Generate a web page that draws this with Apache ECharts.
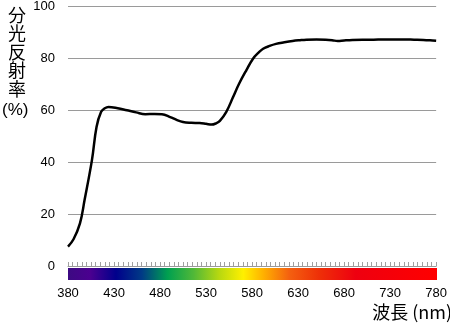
<!DOCTYPE html>
<html>
<head>
<meta charset="utf-8">
<script src="https://cdn.jsdelivr.net/npm/echarts@6/dist/echarts.min.js"></script>
<style>html,body{margin:0;padding:0;background:#fff}#c{width:450px;height:327px}</style>
</head>
<body>
<div id="c"></div>
<script>
var wavelengths = [380, 386, 393, 398, 406, 411, 416, 420, 424, 434, 444, 454, 464, 474, 482, 491, 498, 505, 514, 523, 530, 536, 541, 545, 552, 559, 566, 574, 581, 587, 592, 599, 606, 615, 624, 632, 639, 650, 660, 667, 673, 680, 689, 700, 712, 722, 733, 745, 756, 766, 776, 780];
var reflectance = [7.5, 10.3, 16.4, 25.4, 40.8, 53.6, 59.4, 60.8, 61.3, 60.8, 60.0, 59.2, 58.5, 58.6, 58.5, 57.4, 56.3, 55.5, 55.2, 55.1, 54.8, 54.5, 55.0, 55.9, 59.4, 64.8, 70.3, 75.6, 79.9, 82.2, 83.7, 84.8, 85.6, 86.2, 86.7, 87.0, 87.2, 87.3, 87.2, 87.0, 86.7, 86.9, 87.1, 87.2, 87.2, 87.3, 87.3, 87.3, 87.2, 87.1, 86.9, 86.8];
var xTicks = {min: 380, max: 780, step: 50, minorStep: 5};
var yTicks = {min: 0, max: 100, step: 20};
var spectrumRange = [380, 780];
var spectrumStops = [
  [0.00, '#3c0a82'], [0.06, '#4b0090'], [0.13, '#00008c'], [0.20, '#003a86'],
  [0.27, '#00a050'], [0.34, '#50b838'], [0.41, '#b8d810'], [0.475, '#fff000'],
  [0.53, '#ffb000'], [0.60, '#f46010'], [0.68, '#ee3008'], [0.78, '#ee0010'], [1.00, '#ff0000']
];
var yTitle = '分\n光\n反\n射\n率';
var yUnit = '(%)';
var xTitle = '波長 (nm)';

var font = 'Liberation Sans, Arial, sans-serif';
var cjk = 'Noto Sans CJK JP, sans-serif';
var chart = echarts.init(document.getElementById('c'));
chart.setOption({
  animation: false,
  backgroundColor: '#fff',
  title: [
    {text: yTitle, left: 8, top: 6, padding: 0, textStyle: {fontFamily: cjk, fontSize: 18, fontWeight: 'normal', lineHeight: 18.4, color: '#000'}},
    {text: yUnit, left: 2, top: 102, padding: 0, textStyle: {fontFamily: font, fontSize: 17, fontWeight: 'normal', color: '#000'}},
    {text: xTitle, right: -2, top: 303, padding: 0, textStyle: {fontFamily: cjk, fontSize: 18, fontWeight: 'normal', color: '#000'}}
  ],
  grid: [
    {left: 68, right: 13, top: 6, bottom: 61, containLabel: false},
    {left: 68, right: 13, top: 268, height: 12, containLabel: false}
  ],
  xAxis: [
    {type: 'value', gridIndex: 0, min: xTicks.min, max: xTicks.max, interval: xTicks.step,
     axisLine: {show: true, onZero: false, lineStyle: {color: '#9a9a9a', width: 1}},
     axisTick: {show: false}, splitLine: {show: false},
     axisLabel: {margin: 21, fontSize: 13, color: '#000', fontFamily: font}},
    {type: 'value', gridIndex: 0, min: xTicks.min, max: xTicks.max, interval: xTicks.minorStep, position: 'bottom',
     axisLine: {show: false}, splitLine: {show: false}, axisLabel: {show: false},
     axisTick: {show: true, inside: true, length: 4, lineStyle: {color: '#a0a0a0', width: 1}}},
    {type: 'value', gridIndex: 1, min: spectrumRange[0], max: spectrumRange[1], show: false}
  ],
  yAxis: [
    {type: 'value', gridIndex: 0, min: yTicks.min, max: yTicks.max, interval: yTicks.step,
     axisLine: {show: false}, axisTick: {show: false},
     splitLine: {show: true, lineStyle: {color: '#9a9a9a', width: 1}},
     axisLabel: {margin: 13, fontSize: 13, color: '#000', fontFamily: font}},
    {type: 'value', gridIndex: 1, min: 0, max: 1, show: false}
  ],
  series: [
    {type: 'line', xAxisIndex: 0, yAxisIndex: 0, smooth: 0.4, showSymbol: false, symbol: 'none',
     lineStyle: {color: '#000', width: 2.5},
     data: wavelengths.map(function (w, i) { return [w, reflectance[i]]; })},
    {type: 'custom', xAxisIndex: 2, yAxisIndex: 1, silent: true,
     data: [[spectrumRange[0], spectrumRange[1]]],
     renderItem: function (params, api) {
       var p0 = api.coord([api.value(0), 1]);
       var p1 = api.coord([api.value(1), 0]);
       return {type: 'rect', shape: {x: p0[0], y: p0[1], width: p1[0] - p0[0], height: p1[1] - p0[1]},
         style: {fill: new echarts.graphic.LinearGradient(0, 0, 1, 0,
           spectrumStops.map(function (s) { return {offset: s[0], color: s[1]}; }))}};
     }}
  ]
});
</script>
</body>
</html>
